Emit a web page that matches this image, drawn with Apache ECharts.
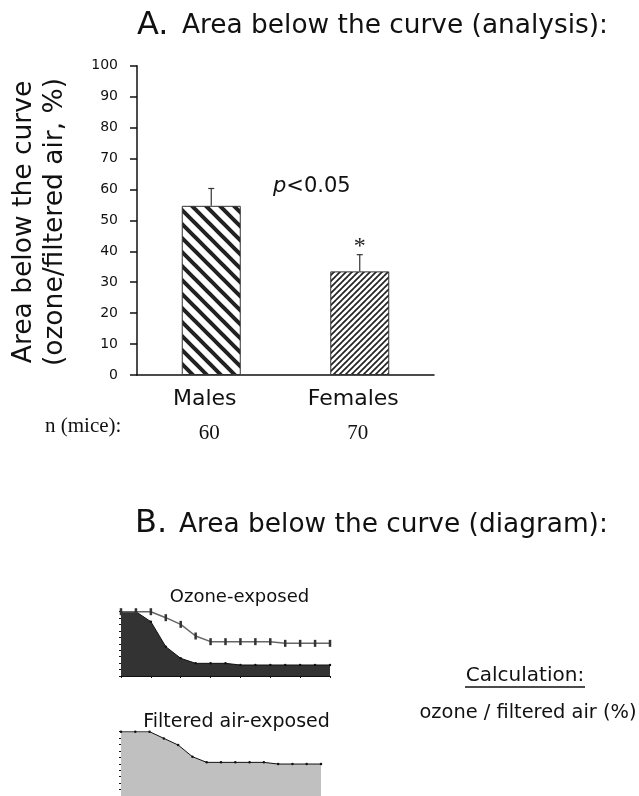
<!DOCTYPE html>
<html><head><meta charset="utf-8">
<script src="https://cdn.jsdelivr.net/npm/echarts@6/dist/echarts.min.js"></script>
<style>html,body{margin:0;padding:0;background:#fff}#c{width:639px;height:796px}</style>
</head><body><div id="c"></div>
<script>
// ---- data ----
const groups = ['Males', 'Females'];
const areaPct = [54.7, 33.5];
const areaErr = [5.6, 5.4];
const sigMarks = ['', '*'];
const nMice = ['60', '70'];
const timePoints = ['1','2','3','4','5','6','7','8','9','10','11','12','13','14','15'];
const ozoneCurve = [100, 100, 84.5, 45.6, 27.5, 19.7, 19.7, 19.7, 17.1, 17.1, 17.1, 17.1, 17.1, 17.1, 17.1];
const filteredRefCurve = [100, 100, 100, 90.7, 80.3, 62.2, 53.4, 53.4, 53.4, 53.4, 53.4, 50.8, 50.8, 50.8, 50.8];
const filteredCurve = [100, 100, 100, 89.6, 79.3, 61.1, 52.3, 52.3, 52.3, 52.3, 52.3, 49.7, 49.7, 49.7, 49.7];

// ---- styles ----
const SANS = 'DejaVu Sans';
const SERIF = 'Liberation Serif';
function hatch(period, lw, dir) {
  const c = document.createElement('canvas');
  c.width = c.height = period;
  const g = c.getContext('2d');
  g.fillStyle = '#fff'; g.fillRect(0, 0, period, period);
  g.strokeStyle = '#222'; g.lineWidth = lw; g.lineCap = 'square';
  g.beginPath();
  for (let k = -1; k <= 1; k++) {
    if (dir === 'back') { g.moveTo(k * period, 0); g.lineTo(k * period + period, period); }
    else { g.moveTo(k * period, period); g.lineTo(k * period + period, 0); }
  }
  g.stroke();
  return c;
}
const patterns = [
  { image: hatch(14, 4, 'back'), repeat: 'repeat' },
  { image: hatch(6, 1.7, 'fwd'), repeat: 'repeat' }
];

const chart = echarts.init(document.getElementById('c'), null, { renderer: 'canvas' });

const txt = (x, y, text, size, opts) => Object.assign({
  type: 'text', x: x, y: y,
  style: Object.assign({ text: text, fontSize: size, fontFamily: SANS, fill: '#111', align: 'left', verticalAlign: 'middle' }, (opts && opts.style) || {})
}, opts && opts.el || {});

const option = {
  animation: false,
  backgroundColor: '#fff',
  grid: [
    { left: 137, top: 65.7, width: 297, height: 309.3 },
    { left: 121, top: 611.7, width: 209, height: 64.3 },
    { left: 121, top: 731.7, width: 200, height: 64.3 }
  ],
  xAxis: [
    { type: 'category', gridIndex: 0, data: groups,
      axisLine: { lineStyle: { color: '#111', width: 1.5 } }, axisTick: { show: false },
      axisLabel: { fontFamily: SANS, fontSize: 22, color: '#111', margin: 13, padding: [0, 13, 0, 0] } },
    { type: 'category', gridIndex: 0, data: nMice, position: 'bottom', offset: 36,
      axisLine: { show: false }, axisTick: { show: false },
      axisLabel: { fontFamily: SERIF, fontSize: 21, color: '#111', margin: 12, padding: [0, 4, 0, 0] } },
    { type: 'category', gridIndex: 1, data: timePoints, boundaryGap: false,
      axisLine: { lineStyle: { color: '#111', width: 1 } },
      axisTick: { show: true, length: 2, lineStyle: { color: '#111' } }, axisLabel: { show: false } },
    { type: 'category', gridIndex: 2, data: timePoints, boundaryGap: false,
      axisLine: { lineStyle: { color: '#111', width: 1 } },
      axisTick: { show: true, length: 2, lineStyle: { color: '#111' } }, axisLabel: { show: false } }
  ],
  yAxis: [
    { type: 'value', gridIndex: 0, min: 0, max: 100, interval: 10,
      axisLine: { show: true, lineStyle: { color: '#111', width: 1.5 } },
      axisTick: { show: true, length: 7, lineStyle: { color: '#111', width: 1.5 } },
      splitLine: { show: false },
      axisLabel: { fontFamily: SANS, fontSize: 14, color: '#111', margin: 19 } },
    { type: 'value', gridIndex: 1, min: 0, max: 100, interval: 10,
      axisLine: { show: true, lineStyle: { color: '#111', width: 1 } },
      axisTick: { show: true, length: 2, lineStyle: { color: '#111' } },
      splitLine: { show: false }, axisLabel: { show: false } },
    { type: 'value', gridIndex: 2, min: 0, max: 100, interval: 10,
      axisLine: { show: true, lineStyle: { color: '#111', width: 1 } },
      axisTick: { show: true, length: 2, lineStyle: { color: '#111' } },
      splitLine: { show: false }, axisLabel: { show: false } }
  ],
  series: [
    { type: 'bar', xAxisIndex: 0, yAxisIndex: 0, barWidth: 59,
      data: areaPct.map((v, i) => ({ value: v, itemStyle: { color: patterns[i], borderColor: '#333', borderWidth: 1 } })) },
    { type: 'custom', xAxisIndex: 0, yAxisIndex: 0,
      data: groups.map((g, i) => [i, areaPct[i], areaPct[i] + areaErr[i]]),
      renderItem: function (params, api) {
        const p0 = api.coord([api.value(0), api.value(1)]);
        const p1 = api.coord([api.value(0), api.value(2)]);
        const st = { stroke: '#333', lineWidth: 1.2 };
        const ch = [
          { type: 'line', shape: { x1: p0[0], y1: p0[1], x2: p1[0], y2: p1[1] }, style: st },
          { type: 'line', shape: { x1: p1[0] - 3, y1: p1[1], x2: p1[0] + 3, y2: p1[1] }, style: st }
        ];
        const m = sigMarks[params.dataIndex];
        if (m) ch.push({ type: 'text', x: p1[0], y: p1[1] - 8,
          style: { text: m, fontFamily: SERIF, fontSize: 24, fill: '#222', align: 'center', verticalAlign: 'middle' } });
        return { type: 'group', children: ch };
      } },
    { type: 'line', xAxisIndex: 2, yAxisIndex: 1, data: ozoneCurve,
      symbol: 'circle', symbolSize: 2.5, itemStyle: { color: '#111' },
      lineStyle: { color: '#111', width: 1 }, areaStyle: { color: '#333', opacity: 1 } },
    { type: 'line', xAxisIndex: 2, yAxisIndex: 1, data: filteredRefCurve,
      symbol: 'rect', symbolSize: [2.5, 7], itemStyle: { color: '#333' },
      lineStyle: { color: '#666', width: 1.5 } },
    { type: 'line', xAxisIndex: 3, yAxisIndex: 2, data: filteredCurve,
      symbol: 'circle', symbolSize: 2.5, itemStyle: { color: '#111' },
      lineStyle: { color: '#111', width: 1 }, areaStyle: { color: '#c0c0c0', opacity: 1 } }
  ],
  graphic: [
    txt(137, 25.5, 'A.', 32),
    txt(182, 26.5, 'Area below the curve (analysis):', 26.4),
    { type: 'text', x: 39.5, y: 222, rotation: Math.PI / 2,
      style: { text: 'Area below the curve\n(ozone/filtered air, %)', fontFamily: SANS, fontSize: 26.5, lineHeight: 31,
        fill: '#111', align: 'center', verticalAlign: 'middle' } },
    { type: 'text', x: 273, y: 187,
      style: { text: '{i|p}<0.05', fontFamily: SANS, fontSize: 21, fill: '#111', verticalAlign: 'middle',
        rich: { i: { fontFamily: SANS, fontStyle: 'italic', fontSize: 21, fill: '#111' } } } },
    txt(45, 426, 'n (mice):', 21, { style: { fontFamily: SERIF } }),
    txt(135, 524, 'B.', 32),
    txt(179, 525, 'Area below the curve (diagram):', 26.4),
    txt(239.5, 597, 'Ozone-exposed', 18, { style: { align: 'center' } }),
    txt(236.5, 722, 'Filtered air-exposed', 19, { style: { align: 'center' } }),
    txt(525, 676, 'Calculation:', 20, { style: { align: 'center' } }),
    { type: 'line', shape: { x1: 465, y1: 687, x2: 585, y2: 687 }, style: { stroke: '#111', lineWidth: 1.5 } },
    txt(528, 713, 'ozone / filtered air (%)', 19.4, { style: { align: 'center' } })
  ]
};
chart.setOption(option);
</script>
</body></html>
